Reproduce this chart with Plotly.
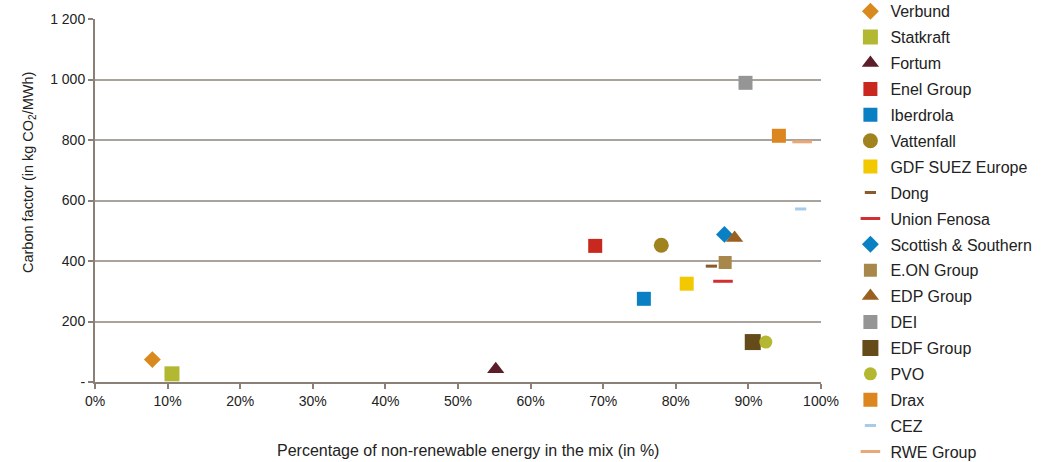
import plotly.graph_objects as go

companies = ["Verbund", "Statkraft", "Fortum", "Enel Group", "Iberdrola", "Vattenfall",
             "GDF SUEZ Europe", "Dong", "Union Fenosa", "Scottish & Southern", "E.ON Group",
             "EDP Group", "DEI", "EDF Group", "PVO", "Drax", "CEZ", "RWE Group"]
non_renewable_pct = [7.9, 10.6, 55.2, 68.9, 75.6, 78.0, 81.5, 84.9, 86.5, 86.7, 86.8,
                     88.1, 89.6, 90.6, 92.4, 94.2, 97.2, 97.4]
carbon_factor = [74, 27, 42, 450, 275, 452, 325, 383, 333, 488, 395, 476, 989, 132, 132, 814, 572, 794]

y_tickvals = [0, 200, 400, 600, 800, 1000, 1200]
y_ticktext = ["-", "200", "400", "600", "800", "1 000", "1 200"]
x_tickvals = [0, 10, 20, 30, 40, 50, 60, 70, 80, 90, 100]
x_ticktext = [f"{v}%" for v in x_tickvals]

styles = {
    "Verbund": dict(symbol="diamond", color="#D98A1E", size=13),
    "Statkraft": dict(symbol="square", color="#B3B832", size=15),
    "Fortum": dict(symbol="triangle-up", color="#5C1E28", size=15),
    "Enel Group": dict(symbol="square", color="#C8281E", size=14),
    "Iberdrola": dict(symbol="square", color="#0A80C4", size=14),
    "Vattenfall": dict(symbol="circle", color="#A0821E", size=15),
    "GDF SUEZ Europe": dict(symbol="square", color="#F2C800", size=14),
    "Dong": dict(symbol="line-ew", color="#8B5A2B", size=8, lw=3),
    "Union Fenosa": dict(symbol="line-ew", color="#D03030", size=14, lw=3),
    "Scottish & Southern": dict(symbol="diamond", color="#0A80C4", size=13),
    "E.ON Group": dict(symbol="square", color="#A8884A", size=13),
    "EDP Group": dict(symbol="triangle-up", color="#9A6020", size=15),
    "DEI": dict(symbol="square", color="#959595", size=14),
    "EDF Group": dict(symbol="square", color="#654A1A", size=16),
    "PVO": dict(symbol="circle", color="#B4B830", size=13),
    "Drax": dict(symbol="square", color="#DB861E", size=14),
    "CEZ": dict(symbol="line-ew", color="#A8CCE8", size=8, lw=3),
    "RWE Group": dict(symbol="line-ew", color="#E8A878", size=14, lw=3),
}

fig = go.Figure()
for name, xv, yv in zip(companies, non_renewable_pct, carbon_factor):
    s = styles[name]
    if s["symbol"] == "line-ew":
        marker = dict(symbol="line-ew", size=s["size"],
                      line=dict(color=s["color"], width=s["lw"]))
    else:
        marker = dict(symbol=s["symbol"], size=s["size"], color=s["color"], line=dict(width=0))
    fig.add_trace(go.Scatter(x=[xv], y=[yv], mode="markers", name=name, marker=marker,
                             legendgroup=name))

font_family = "Liberation Sans, Arial, Helvetica, sans-serif"
axis_col = "#8a8078"
grid_col = "#aaa39c"

L, T, R, B = 95, 19, 237, 80
W, H = 1058, 462
pw, ph = W - L - R, H - T - B


def px_to_paper(xp, yp):
    return (xp - L) / pw, (H - B - yp) / ph


xt_x, xt_y = px_to_paper(467.5, 450)
yt_x, yt_y = px_to_paper(29, 173)

fig.update_layout(
    width=W, height=H,
    margin=dict(l=L, r=R, t=T, b=B, autoexpand=False),
    paper_bgcolor="white", plot_bgcolor="white",
    font=dict(family=font_family, size=14, color="#222222"),
    showlegend=True,
    legend=dict(x=1.0405, y=1.068, xanchor="left", yanchor="top",
                font=dict(size=16, color="#222222"),
                tracegroupgap=2.1, itemsizing="trace", maxheight=700,
                bgcolor="rgba(0,0,0,0)"),
    xaxis=dict(range=[0, 100], tickvals=x_tickvals, ticktext=x_ticktext,
               showgrid=False, zeroline=False, showline=True, linecolor=axis_col, linewidth=2,
               ticks="outside", ticklen=5, tickcolor=axis_col, tickwidth=1.5,
               tickfont=dict(size=14)),
    yaxis=dict(range=[0, 1200], tickvals=y_tickvals, ticktext=y_ticktext,
               showgrid=True, gridcolor=grid_col, gridwidth=1.5, zeroline=False,
               showline=True, linecolor=axis_col, linewidth=2,
               ticks="outside", ticklen=5, tickcolor=axis_col, tickwidth=1.5,
               tickfont=dict(size=14)),
    annotations=[
        dict(text="Percentage of non-renewable energy in the mix (in %)",
             xref="paper", yref="paper", x=xt_x, y=xt_y,
             xanchor="center", yanchor="middle", showarrow=False,
             font=dict(size=16, color="#222222")),
        dict(text="Carbon factor (in kg CO<sub>2</sub>/MWh)",
             xref="paper", yref="paper", x=yt_x, y=yt_y, textangle=-90,
             xanchor="center", yanchor="middle", showarrow=False,
             font=dict(size=14.5, color="#222222")),
    ],
)

fig.write_html("out.html", config={"displayModeBar": False},
               post_script="document.body.style.margin='0';")
